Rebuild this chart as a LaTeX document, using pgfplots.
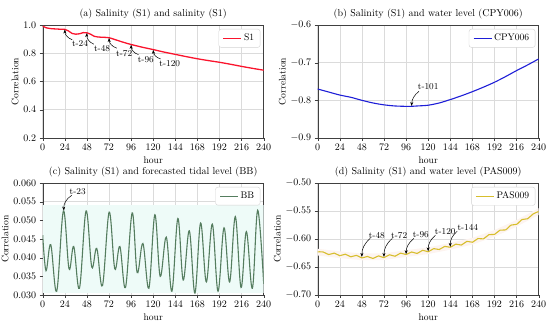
\documentclass[border=0pt]{standalone}
\usepackage{pgfplots}
\pgfplotsset{compat=1.18}
\usetikzlibrary{arrows.meta}
\definecolor{cRed}{RGB}{250,20,45}
\definecolor{cBlue}{RGB}{30,30,215}
\definecolor{cGreen}{RGB}{85,125,95}
\definecolor{cGold}{RGB}{215,190,45}
\definecolor{cMint}{RGB}{238,251,248}
\definecolor{cPink}{RGB}{253,244,240}
\newcommand{\tf}{\fontsize{9.6}{10}\selectfont}
\newcommand{\af}{\fontsize{9}{9}\selectfont}
\tikzset{ann/.style={-{Stealth[length=4pt,width=3pt]}, black, line width=0.5pt}}
\pgfplotsset{
  panel/.style={
    scale only axis, width=221pt, height=113pt,
    xmin=0, xmax=240, xtick={0,24,...,240},
    grid=major, grid style={gray!28, line width=0.5pt},
    axis line style={black!75}, tick style={black!75},
    tick align=outside, tick pos=left, major tick length=3pt,
    xlabel={hour}, ylabel={Correlation},
    xlabel style={font=\tf, yshift=1pt},
    ylabel style={font=\tf, yshift=-2pt},
    title style={font=\fontsize{10}{11}\selectfont, yshift=-3.5pt},
    tick label style={font=\tf},
    scaled y ticks=false,
    legend style={at={(0.985,0.965)}, anchor=north east, draw=gray!35,
      rounded corners=2.5pt, font=\tf, inner xsep=4pt, inner ysep=3pt},
    legend image code/.code={\draw[#1] (0pt,0pt) -- (18pt,0pt);},
    legend cell align=left,
  },
}
\begin{document}
\begin{tikzpicture}
\useasboundingbox (0,0) rectangle (550pt,328pt);
% (a)
\begin{axis}[panel, at={(42.7pt,190pt)}, anchor=south west,
  title={(a) Salinity (S1) and salinity (S1)},
  ymin=0.2, ymax=1.0, ytick={0.2,0.4,...,1.0},
  yticklabel style={/pgf/number format/fixed, /pgf/number format/fixed zerofill, /pgf/number format/precision=1}]
\addplot[cRed, line width=1.3pt, smooth] coordinates {
(0,0.992)(4,0.980)(8,0.975)(14,0.972)(20,0.970)(24,0.969)(28,0.958)(32,0.940)(36,0.935)(40,0.938)(44,0.946)(48,0.945)(52,0.935)(56,0.920)(60,0.915)(66,0.913)(72,0.910)(78,0.898)(84,0.885)(90,0.873)(96,0.862)(108,0.843)(120,0.826)(132,0.808)(144,0.792)(156,0.776)(168,0.761)(180,0.748)(192,0.736)(204,0.722)(216,0.707)(228,0.693)(240,0.680)};
\addlegendentry{S1}
\node[font=\af] at (axis cs:40.5,0.866) {t-24};
\draw[ann] (axis cs:32,0.896) to[bend left=35] (axis cs:24,0.968);
\node[font=\af] at (axis cs:64.5,0.830) {t-48};
\draw[ann] (axis cs:55.5,0.864) to[bend left=35] (axis cs:48,0.943);
\node[font=\af] at (axis cs:88.5,0.800) {t-72};
\draw[ann] (axis cs:80.5,0.836) to[bend left=35] (axis cs:72,0.908);
\node[font=\af] at (axis cs:112,0.753) {t-96};
\draw[ann] (axis cs:104,0.790) to[bend left=35] (axis cs:96,0.860);
\node[font=\af] at (axis cs:138,0.724) {t-120};
\draw[ann] (axis cs:128,0.760) to[bend left=35] (axis cs:120,0.824);
\end{axis}
% (b)
\begin{axis}[panel, at={(317.7pt,190pt)}, anchor=south west,
  title={(b) Salinity (S1) and water level (CPY006)},
  ymin=-0.9, ymax=-0.6, ytick={-0.9,-0.8,-0.7,-0.6},
  yticklabel style={/pgf/number format/fixed, /pgf/number format/fixed zerofill, /pgf/number format/precision=1}]
\addplot[cBlue, line width=1.1pt, smooth] coordinates {
(0,-0.770)(12,-0.778)(24,-0.786)(36,-0.792)(48,-0.800)(60,-0.807)(72,-0.812)(84,-0.815)(96,-0.816)(101,-0.816)(108,-0.815)(120,-0.813)(132,-0.807)(144,-0.798)(156,-0.788)(168,-0.777)(180,-0.765)(192,-0.752)(204,-0.737)(216,-0.721)(228,-0.706)(240,-0.690)};
\addlegendentry{CPY006}
\node[font=\af] at (axis cs:120,-0.763) {t-101};
\draw[ann] (axis cs:110,-0.776) to[bend right=25] (axis cs:102,-0.815);
\end{axis}
% (c)
\begin{axis}[panel, at={(42.7pt,33pt)}, anchor=south west, height=112pt,
  title={(c) Salinity (S1) and forecasted tidal level (BB)},
  ymin=0.030, ymax=0.060, ytick={0.030,0.035,...,0.0601},
  yticklabel style={/pgf/number format/fixed, /pgf/number format/fixed zerofill, /pgf/number format/precision=3}]
\addplot[fill=cMint, draw=none, forget plot] coordinates {(0,0.0305)(240,0.0305)(240,0.0540)(0,0.0540)} -- cycle;
\addplot[cGreen, line width=1.1pt, smooth, tension=0.6] coordinates {
(0,0.0460)(3.6,0.0365)(8.7,0.0435)(15.2,0.0310)(22.5,0.0525)(28.6,0.0370)(33.7,0.0430)(39.9,0.0318)(47.1,0.0525)(53.3,0.0375)(58.7,0.0425)(64.9,0.0325)(72.2,0.0522)(78.3,0.0370)(83.8,0.0430)(89.9,0.0320)(97.2,0.0520)(102.6,0.0360)(108.8,0.0438)(115.3,0.0318)(121.8,0.0515)(127.6,0.0350)(134.2,0.0455)(140.3,0.0310)(146.8,0.0505)(152.6,0.0340)(159.2,0.0472)(165.3,0.0305)(171.5,0.0493)(177.7,0.0335)(184.2,0.0490)(190.4,0.0310)(196.9,0.0480)(203,0.0335)(209.2,0.0510)(215.4,0.0320)(221.2,0.0470)(227.7,0.0318)(233.5,0.0527)(240,0.0330)};
\addlegendentry{BB}
\node[font=\af] at (axis cs:38,0.0578) {t-23};
\draw[ann] (axis cs:31.5,0.0567) to[bend right=30] (axis cs:23,0.0526);
\end{axis}
% (d)
\begin{axis}[panel, at={(317.7pt,33pt)}, anchor=south west, height=112pt,
  title={(d) Salinity (S1) and water level (PAS009)},
  ymin=-0.70, ymax=-0.50, ytick={-0.70,-0.65,...,-0.499},
  yticklabel style={/pgf/number format/fixed, /pgf/number format/fixed zerofill, /pgf/number format/precision=2}]
\addplot[fill=cPink, draw=none, forget plot] coordinates {(0,-0.6175)(24,-0.622)(48,-0.626)(72,-0.6255)(96,-0.620)(120,-0.615)(144,-0.607)(168,-0.598)(192,-0.584)(216,-0.566)(240,-0.545)(240,-0.557)(216,-0.578)(192,-0.596)(168,-0.610)(144,-0.619)(120,-0.627)(96,-0.632)(72,-0.6375)(48,-0.638)(24,-0.634)(0,-0.6295)} -- cycle;
\addplot[cGold, line width=1.1pt, smooth] coordinates {
(0,-0.623)(6,-0.6232)(12,-0.6278)(18,-0.6252)(24,-0.6298)(30,-0.6272)(36,-0.6318)(42,-0.6292)(48,-0.6338)(54,-0.6312)(60,-0.6348)(66,-0.6302)(72,-0.6333)(78,-0.6282)(84,-0.6308)(90,-0.6252)(96,-0.6278)(102,-0.6232)(108,-0.6258)(114,-0.6202)(120,-0.6228)(126,-0.6172)(132,-0.6188)(138,-0.6132)(144,-0.6148)(150,-0.6092)(156,-0.6108)(162,-0.6042)(168,-0.6058)(174,-0.5992)(180,-0.5998)(186,-0.5922)(192,-0.5918)(198,-0.5842)(204,-0.5838)(210,-0.5752)(216,-0.5738)(222,-0.5652)(228,-0.5638)(234,-0.5552)(240,-0.551)};
\addlegendentry{PAS009}
\node[font=\af] at (axis cs:64.2,-0.593) {t-48};
\draw[ann] (axis cs:57,-0.599) to[bend right=25] (axis cs:48,-0.632);
\node[font=\af] at (axis cs:88.5,-0.593) {t-72};
\draw[ann] (axis cs:81,-0.599) to[bend right=25] (axis cs:72,-0.632);
\node[font=\af] at (axis cs:112,-0.593) {t-96};
\draw[ann] (axis cs:104.5,-0.599) to[bend right=25] (axis cs:96,-0.627);
\node[font=\af] at (axis cs:138.5,-0.586) {t-120};
\draw[ann] (axis cs:128,-0.593) to[bend right=25] (axis cs:120,-0.622);
\node[font=\af] at (axis cs:163,-0.579) {t-144};
\draw[ann] (axis cs:151.5,-0.586) to[bend right=25] (axis cs:144,-0.614);
\end{axis}
\end{tikzpicture}
\end{document}
